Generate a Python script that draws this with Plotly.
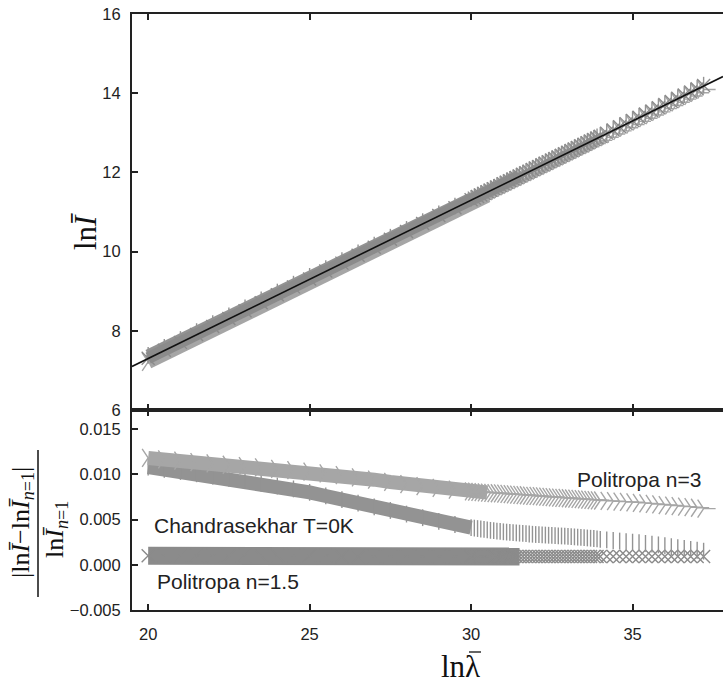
import numpy as np
import plotly.graph_objects as go

# ---------------- data ----------------
x_grid = [20.0, 20.5, 21.0, 21.5, 22.0, 22.5, 23.0, 23.5, 24.0, 24.5,
          25.0, 25.5, 26.0, 26.5, 27.0, 27.5, 28.0, 28.5, 29.0, 29.5,
          30.0, 30.1, 30.2, 30.3, 30.4, 30.5, 30.6, 30.7, 30.8, 30.9,
          31.0, 31.1, 31.2, 31.3, 31.4, 31.5, 31.6, 31.7, 31.8, 31.9,
          32.0, 32.1, 32.2, 32.3, 32.4, 32.5, 32.6, 32.7, 32.8, 32.9,
          33.0, 33.1, 33.2, 33.3, 33.4, 33.5, 33.6, 33.7, 33.8, 33.9,
          34.0, 34.2, 34.4, 34.6, 34.8, 35.0, 35.2, 35.4, 35.6, 35.8,
          36.0, 36.2, 36.4, 36.6, 36.8, 37.0, 37.2]

# relative difference |lnI - lnI_{n=1}| / lnI_{n=1}
rel_n3 = [0.01180, 0.01165, 0.01150, 0.01135, 0.01120, 0.01105, 0.01090, 0.01075, 0.01060, 0.01045,
          0.01030, 0.01010, 0.00990, 0.00965, 0.00940, 0.00915, 0.00890, 0.00870, 0.00850, 0.00830,
          0.00810, 0.00808, 0.00805, 0.00802, 0.00800, 0.00798, 0.00795, 0.00792, 0.00790, 0.00788,
          0.00785, 0.00782, 0.00780, 0.00778, 0.00775, 0.00772, 0.00770, 0.00768, 0.00765, 0.00762,
          0.00760, 0.00758, 0.00755, 0.00752, 0.00750, 0.00748, 0.00745, 0.00742, 0.00740, 0.00738,
          0.00735, 0.00732, 0.00730, 0.00728, 0.00725, 0.00722, 0.00720, 0.00718, 0.00715, 0.00712,
          0.00710, 0.00706, 0.00702, 0.00698, 0.00694, 0.00690, 0.00684, 0.00678, 0.00672, 0.00666,
          0.00660, 0.00654, 0.00648, 0.00642, 0.00636, 0.00630, 0.00620]
rel_ch = [0.01080, 0.01055, 0.01030, 0.01005, 0.00980, 0.00955, 0.00930, 0.00900, 0.00870, 0.00838,
          0.00800, 0.00760, 0.00720, 0.00680, 0.00640, 0.00600, 0.00560, 0.00520, 0.00480, 0.00445,
          0.00410, 0.00405, 0.00400, 0.00395, 0.00390, 0.00385, 0.00380, 0.00376, 0.00372, 0.00368,
          0.00364, 0.00361, 0.00358, 0.00355, 0.00352, 0.00349, 0.00346, 0.00343, 0.00340, 0.00337,
          0.00334, 0.00332, 0.00330, 0.00328, 0.00326, 0.00324, 0.00322, 0.00320, 0.00318, 0.00316,
          0.00314, 0.00311, 0.00308, 0.00305, 0.00302, 0.00299, 0.00296, 0.00293, 0.00290, 0.00287,
          0.00280, 0.00274, 0.00268, 0.00262, 0.00256, 0.00250, 0.00243, 0.00236, 0.00228, 0.00220,
          0.00210, 0.00200, 0.00190, 0.00180, 0.00170, 0.00160, 0.00150]
rel_n15 = [0.0010, 0.0010, 0.0010, 0.0010, 0.0010, 0.0010, 0.0010, 0.0010, 0.0010, 0.0010,
           0.0010, 0.0010, 0.0009, 0.0009, 0.0009, 0.0009, 0.0009, 0.0009, 0.0009, 0.0009,
           0.0009, 0.0009, 0.0009, 0.0009, 0.0009, 0.0009, 0.0009, 0.0009, 0.0009, 0.0009,
           0.0009, 0.0009, 0.0009, 0.0009, 0.0009, 0.0009, 0.0009, 0.0009, 0.0009, 0.0009,
           0.0009, 0.0009, 0.0009, 0.0009, 0.0009, 0.0009, 0.0009, 0.0009, 0.0009, 0.0009,
           0.0009, 0.0009, 0.0009, 0.0009, 0.0009, 0.0009, 0.0009, 0.0009, 0.0009, 0.0009,
           0.0009, 0.0009, 0.0009, 0.0009, 0.0009, 0.0009, 0.0009, 0.0009, 0.0009, 0.0009,
           0.0009, 0.0009, 0.0009, 0.0009, 0.0009, 0.0009, 0.0009]

# reference (n=1) straight line in the upper panel
line_x = [19.5, 37.8]
line_y = [7.10, 14.42]

x_ticks = [20, 25, 30, 35]
y_top_ticks = [6, 8, 10, 12, 14, 16]
y_bot_ticks = [-0.005, 0.0, 0.005, 0.010, 0.015]

labels = {"n3": "Politropa n=3", "ch": "Chandrasekhar T=0K", "n15": "Politropa n=1.5"}

# ---------------- styling ----------------
C_N3 = "#a6a6a6"
C_CH = "#939393"
C_N15 = "#8b8b8b"
AX = "#222222"
SANS = "Liberation Sans, Arial, Helvetica, sans-serif"
SERIF = "Liberation Serif, DejaVu Serif, Times New Roman, serif"

W, H = 723, 684
PL, PR, PT, PB = 132, 723, 14, 610          # plot area in window pixels

xg = np.array(x_grid)
ref = np.interp(xg, line_x, line_y)

# key, values, colour, symbol, marker size, band width (lower, upper), sign, solid-band end
series = {
    "n15": (np.array(rel_n15), C_N15, "x-thin", 13, 18, 12, +1, 31.5),
    "ch": (np.array(rel_ch), C_CH, "line-ns", 12, 14, 12, +1, 30.0),
    "n3": (np.array(rel_n3), C_N3, "y-right", 15, 14, 14, -1, 30.5),
}

fig = go.Figure()

# upper panel: lnI of each model (light n=3 underneath)
for key in ["n3", "ch", "n15"]:
    rel, col, sym, size, bw, bw_top, sgn, cut = series[key]
    ytop = ref * (1 + sgn * rel)
    m = xg <= cut
    fig.add_trace(go.Scatter(x=xg[m], y=ytop[m], mode="lines",
                             line=dict(color=col, width=bw_top), xaxis="x", yaxis="y",
                             showlegend=False, hoverinfo="skip"))
    fig.add_trace(go.Scatter(x=xg, y=ytop, mode="markers",
                             marker=dict(symbol=sym, size=size, color=col,
                                         line=dict(color=col, width=1.4)),
                             xaxis="x", yaxis="y", name=labels[key], showlegend=False))
fig.add_trace(go.Scatter(x=line_x, y=line_y, mode="lines",
                         line=dict(color="#111111", width=1.6), xaxis="x", yaxis="y",
                         showlegend=False))

# lower panel: relative differences
for key in ["n15", "ch", "n3"]:
    rel, col, sym, size, bw, bw_top, sgn, cut = series[key]
    m = xg <= cut
    fig.add_trace(go.Scatter(x=xg[m], y=rel[m], mode="lines",
                             line=dict(color=col, width=bw), xaxis="x2", yaxis="y2",
                             showlegend=False, hoverinfo="skip"))
    fig.add_trace(go.Scatter(x=xg, y=rel, mode="markers",
                             marker=dict(symbol=sym, size=size, color=col,
                                         line=dict(color=col, width=1.4)),
                             xaxis="x2", yaxis="y2", name=labels[key], showlegend=False))

split = 200 / 596
XR = [19.5, 37.8]
tickfont = dict(family=SANS, size=16.5, color=AX)
xcommon = dict(range=XR, tickvals=x_ticks, ticks="inside", ticklen=6, tickwidth=1.5,
               tickcolor=AX, showline=True, linewidth=2, linecolor=AX, mirror="ticks",
               showgrid=False, zeroline=False, tickfont=tickfont, automargin=False)
ycommon = dict(ticks="inside", ticklen=6, tickwidth=1.5, tickcolor=AX, showline=True,
               linewidth=2, linecolor=AX, showgrid=False, zeroline=False, tickfont=tickfont,
               ticklabelstandoff=6, automargin=False)
yright = dict(side="right", ticks="inside", ticklen=5, tickwidth=1.5, tickcolor=AX,
              showline=False, showticklabels=False, showgrid=False, zeroline=False,
              automargin=False)

fig.update_layout(
    width=W, height=H,
    margin=dict(l=PL, r=W - PR, t=PT, b=H - PB, pad=0),
    paper_bgcolor="white", plot_bgcolor="white",
    showlegend=False,
    xaxis=dict(**xcommon, anchor="y", domain=[0, 1], showticklabels=False),
    yaxis=dict(**ycommon, domain=[split, 1], range=[6, 16], tickvals=y_top_ticks, anchor="x"),
    yaxis3=dict(**yright, overlaying="y", anchor="x", range=[6, 16], tickvals=y_top_ticks),
    xaxis2=dict(**xcommon, anchor="y2", domain=[0, 1], matches="x", showticklabels=True,
                ticklabelstandoff=8),
    yaxis2=dict(**ycommon, domain=[0, split], range=[-0.005, 0.0171], tickvals=y_bot_ticks,
                tickformat=".3f", anchor="x2"),
    yaxis4=dict(**yright, overlaying="y2", anchor="x2", range=[-0.005, 0.0171],
                tickvals=y_bot_ticks),
)

def px2paper_x(px):
    return (px - PL) / (PR - PL)

def px2paper_y(py):
    return (PB - py) / (PB - PT)

ann = []
# series labels in lower panel
ann.append(dict(x=33.22, y=0.0094, xref="x2", yref="y2", text=labels["n3"], showarrow=False,
                xanchor="left", yanchor="middle", font=dict(family=SANS, size=21, color=AX)))
ann.append(dict(x=20.12, y=0.0043, xref="x2", yref="y2", text=labels["ch"], showarrow=False,
                xanchor="left", yanchor="middle", font=dict(family=SANS, size=21, color=AX)))
ann.append(dict(x=20.22, y=-0.0018, xref="x2", yref="y2", text=labels["n15"], showarrow=False,
                xanchor="left", yanchor="middle", font=dict(family=SANS, size=21, color=AX)))
# axis titles
ann.append(dict(x=px2paper_x(86), y=px2paper_y(232), xref="paper", yref="paper",
                text="ln<i>Ī</i>", textangle=-90, showarrow=False, xanchor="center",
                yanchor="middle", font=dict(family=SERIF, size=31, color="#111")))
ann.append(dict(x=px2paper_x(460), y=px2paper_y(666), xref="paper", yref="paper",
                text="ln\u03bb", showarrow=False, xanchor="center",
                yanchor="middle", font=dict(family=SERIF, size=31, color="#111")))
ann.append(dict(x=px2paper_x(22), y=px2paper_y(522), xref="paper", yref="paper",
                text="|ln<i>Ī</i>\u2212ln<i>Ī</i><sub><i>n</i>=1</sub>|", textangle=-90,
                showarrow=False, xanchor="center", yanchor="middle",
                font=dict(family=SERIF, size=26, color="#111")))
ann.append(dict(x=px2paper_x(56), y=px2paper_y(530), xref="paper", yref="paper",
                text="ln<i>Ī</i><sub><i>n</i>=1</sub>", textangle=-90,
                showarrow=False, xanchor="center", yanchor="middle",
                font=dict(family=SERIF, size=26, color="#111")))
fig.update_layout(annotations=ann)

# fraction bar of the lower y-title
fig.add_shape(type="line", xref="paper", yref="paper",
              x0=px2paper_x(38), x1=px2paper_x(38), y0=px2paper_y(450), y1=px2paper_y(597),
              line=dict(color="#111", width=1.5))
# bar over lambda in the x-title
fig.add_shape(type="line", xref="paper", yref="paper",
              x0=px2paper_x(469), x1=px2paper_x(481), y0=px2paper_y(652), y1=px2paper_y(652),
              line=dict(color="#111", width=1.3))

# remove the browser's default 8px body margin so the figure sits at the window origin
fig.write_html("out.html", config={"displayModeBar": False},
               post_script="document.body.style.margin='0';")
